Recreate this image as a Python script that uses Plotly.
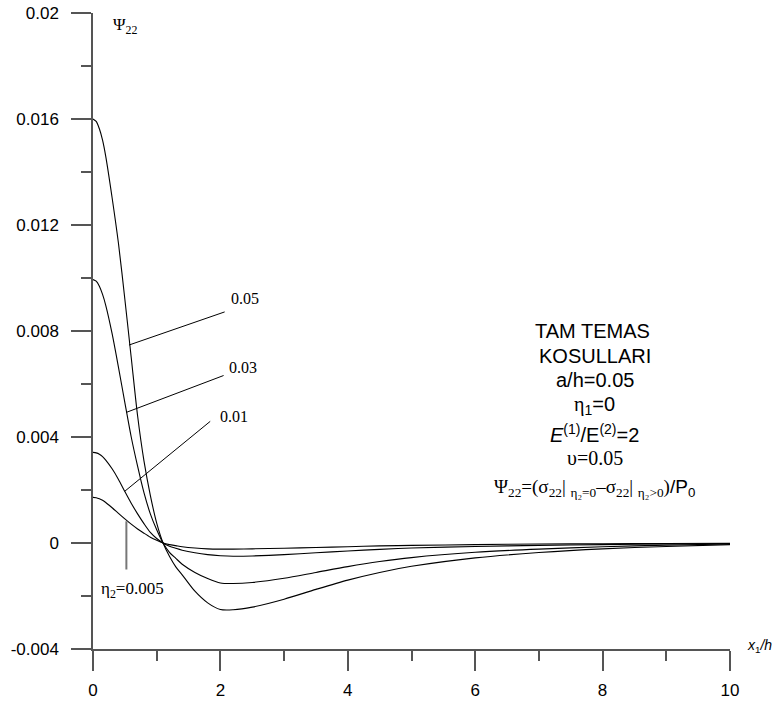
import plotly.graph_objects as go

# ---- data ----
x_vals = [0, 0.05, 0.1, 0.15, 0.2, 0.3, 0.4, 0.5, 0.6, 0.7, 0.8, 0.9, 1.0, 1.1, 1.2, 1.3, 1.4,
          1.6, 1.8, 2.0, 2.2, 2.5, 3.0, 3.5, 4.0, 4.5, 5, 6, 7, 8, 9, 10]
psi_005 = [0.00172, 0.00171, 0.00167, 0.00161, 0.00153, 0.00133, 0.00112, 0.00091, 0.00071,
           0.00053, 0.00037, 0.00022, 0.0001, 0.0, -0.00006, -0.0001, -0.00014, -0.00019,
           -0.00022, -0.00023, -0.00023, -0.00022, -0.0002, -0.00017, -0.00014, -0.00011,
           -0.00009, -0.00006, -0.00004, -0.00003, -0.00002, -0.00001]
psi_01 = [0.00342, 0.0034, 0.00335, 0.00326, 0.00313, 0.0028, 0.0024, 0.00194, 0.0015, 0.0011,
          0.00073, 0.0004, 0.00017, 0.0, -0.00012, -0.0002, -0.00027, -0.00037, -0.00044,
          -0.00048, -0.0005, -0.00049, -0.00044, -0.00037, -0.0003, -0.00024, -0.00019,
          -0.00013, -0.00009, -0.00006, -0.00004, -0.00002]
psi_03 = [0.00994, 0.00988, 0.00969, 0.00938, 0.00897, 0.0079, 0.00663, 0.0053, 0.0040,
          0.0029, 0.0019, 0.0011, 0.0005, 0.0, -0.00035, -0.00058, -0.0008, -0.00111,
          -0.00134, -0.00151, -0.00153, -0.00149, -0.00133, -0.00111, -0.00089, -0.0007,
          -0.00055, -0.00035, -0.00023, -0.00014, -0.00008, -0.00004]
psi_05 = [0.0160, 0.01591, 0.01563, 0.0152, 0.01459, 0.01303, 0.0113, 0.0092, 0.0070, 0.0048,
          0.0031, 0.0018, 0.00075, 0.0, -0.0005, -0.0009, -0.0012, -0.00182, -0.00226,
          -0.00251, -0.00252, -0.00242, -0.00212, -0.00175, -0.0014, -0.00111, -0.00088,
          -0.00056, -0.00036, -0.00022, -0.00013, -0.00006]

series = [psi_005, psi_01, psi_03, psi_05]

y_tickvals = [-0.004, 0, 0.004, 0.008, 0.012, 0.016, 0.02]
y_ticktext = ["-0.004", "0", "0.004", "0.008", "0.012", "0.016", "0.02"]
y_minor = [-0.002, 0.002, 0.006, 0.010, 0.014, 0.018]
x_tickvals = [0, 2, 4, 6, 8, 10]
x_ticktext = ["0", "2", "4", "6", "8", "10"]
x_minor = [1, 3, 5, 7, 9]

SANS = "Liberation Sans, Arial, sans-serif"
SERIF = "Liberation Serif, Times New Roman, serif"
AXC = "#555555"

fig = go.Figure()
for ys in series:
    fig.add_trace(go.Scatter(x=x_vals, y=ys, mode="lines",
                             line=dict(color="black", width=1.1, shape="spline", smoothing=0.8),
                             showlegend=False, hoverinfo="skip"))

# leader lines
leaders = [
    ((0.565, 0.00747), (2.067, 0.00872), "black", 1),
    ((0.524, 0.00493), (2.05, 0.00632), "black", 1),
    ((0.497, 0.00195), (1.84, 0.00459), "black", 1),
    ((0.524, 0.00082), (0.524, -0.00100), "#777777", 2),
]
for (x0, y0), (x1, y1), c, w in leaders:
    fig.add_shape(type="line", x0=x0, y0=y0, x1=x1, y1=y1, xref="x", yref="y",
                  line=dict(color=c, width=w))

def ann(text, x, y, size, family, xref="x", yref="y"):
    fig.add_annotation(text=text, x=x, y=y, xref=xref, yref=yref, showarrow=False,
                       font=dict(family=family, size=size, color="black"),
                       xanchor="center", yanchor="middle")

ann("0.05", 2.38, 0.00924, 16, SERIF)
ann("0.03", 2.35, 0.00661, 16, SERIF)
ann("0.01", 2.21, 0.00476, 16, SERIF)
ann("η<sub>2</sub>=0.005", 0.62, -0.00176, 17, SERIF)

ann("Ψ<sub>22</sub>", 0.51, 0.0195, 17, SERIF)
ann("<i>x</i><sub>1</sub><i>/h</i>", 1.047, 0.005, 14, SANS, xref="paper", yref="paper")

# right-side text block
cx = 7.876
ann("TAM TEMAS", cx - 0.04, 0.007985, 20, SANS)
ann("KOSULLARI", cx, 0.007068, 20, SANS)
ann("a/h=0.05", cx, 0.006162, 20, SANS)
ann("<span style='font-family:Liberation Serif'>η</span><sub>1</sub>=0", cx, 0.005181, 20, SANS)
ann("<i>E</i><sup>(1)</sup>/E<sup>(2)</sup>=2", cx, 0.004151, 20, SANS)
ann("υ=0.05", cx, 0.003208, 20, SERIF)
ann("Ψ<sub>22</sub>=(σ<sub>22</sub>| <sub>η₂=0</sub>–σ<sub>22</sub>| <sub>η₂>0</sub>)"
    "<span style='font-family:Liberation Sans'>/P<sub>0</sub></span>",
    cx, 0.002075, 19, SERIF)

fig.update_layout(
    width=778, height=709,
    margin=dict(l=93, r=48, t=13, b=60, autoexpand=False),
    plot_bgcolor="white", paper_bgcolor="white",
    font=dict(family=SANS, size=17, color="black"),
    xaxis=dict(range=[0, 10], showgrid=False, zeroline=False, showline=True,
               linecolor=AXC, linewidth=1.5, ticks="outside", ticklen=20, tickwidth=1.5,
               tickcolor=AXC, tickmode="array", tickvals=x_tickvals, ticktext=x_ticktext,
               ticklabelstandoff=5,
               tickfont=dict(family=SANS, size=17, color="black"),
               minor=dict(tickmode="array", tickvals=x_minor, ticks="outside", ticklen=10,
                          tickwidth=1.5, tickcolor=AXC, showgrid=False)),
    yaxis=dict(range=[-0.004, 0.02], showgrid=False, zeroline=False, showline=True,
               linecolor=AXC, linewidth=1.5, ticks="outside", ticklen=20, tickwidth=1.5,
               tickcolor=AXC, tickmode="array", tickvals=y_tickvals, ticktext=y_ticktext,
               ticklabelstandoff=9,
               tickfont=dict(family=SANS, size=17, color="black"),
               minor=dict(tickmode="array", tickvals=y_minor, ticks="outside", ticklen=10,
                          tickwidth=1.5, tickcolor=AXC, showgrid=False)),
)

fig.write_html("out.html")
